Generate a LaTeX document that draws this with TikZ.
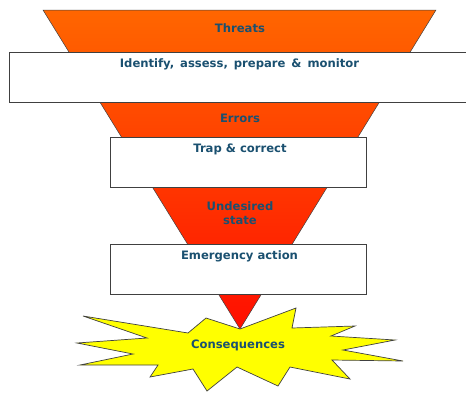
\documentclass[tikz,border=0pt]{standalone}
\usepackage{fontspec}
\setmainfont{DejaVu Sans}
\definecolor{txtblue}{RGB}{26,80,112}
\definecolor{edgegray}{RGB}{64,64,64}
\definecolor{topor}{RGB}{255,102,0}
\definecolor{botred}{RGB}{255,14,0}
\definecolor{starfill}{RGB}{255,255,0}
\begin{document}
\begin{tikzpicture}[x=1pt,y=-1pt,
  lbl/.style={text=txtblue,font=\fontsize{11.6}{13.5}\selectfont\bfseries,align=center,inner sep=0pt},
  boxstyle/.style={draw=edgegray,line width=0.9pt,fill=white}]
\useasboundingbox (0,0) rectangle (466,392);
\clip (0,0) rectangle (466,392);
% funnel
\coordinate (tl) at (43,10);
\coordinate (tr) at (436,10);
\coordinate (apex) at (240,329);
\shade[top color=topor,bottom color=botred,draw=edgegray,line width=0.5pt] (tl) -- (tr) -- (apex) -- cycle;
% boxes
\draw[boxstyle] (9,52) rectangle (470,102);
\draw[boxstyle] (110,137) rectangle (366,187);
\draw[boxstyle] (110,244) rectangle (366,294);
% star
\draw[fill=starfill,draw=edgegray,line width=0.7pt,line join=miter]
 (83,316) -- (188,333) -- (206,318) -- (apex) -- (296,308) -- (292,328) -- (355,326) -- (331,336) -- (395,340) -- (343,350) -- (403,361) -- (332,360) -- (350,379) -- (290,367) -- (278,386) -- (237,367) -- (207,391) -- (193,369) -- (150,377) -- (158,365) -- (80,365) -- (133,354) -- (77,343) -- (147,338) -- cycle;
% labels
\node[lbl] (threats) at (240,28) {Threats};
\node[lbl] (identify) at (239.5,64) {Identify,\,\ assess,\,\ prepare\,\ \&\,\ monitor};
\node[lbl] (errors) at (240,118.5) {Errors};
\node[lbl] (trap) at (240,149) {Trap \& correct};
\node[lbl,text width=80pt,font=\fontsize{11.6}{14}\selectfont\bfseries] (undesired) at (240,213) {Undesired\\state};
\node[lbl] (emerg) at (239.5,256) {Emergency action};
\node[lbl] (cons) at (238,345) {Consequences};
\end{tikzpicture}
\end{document}
